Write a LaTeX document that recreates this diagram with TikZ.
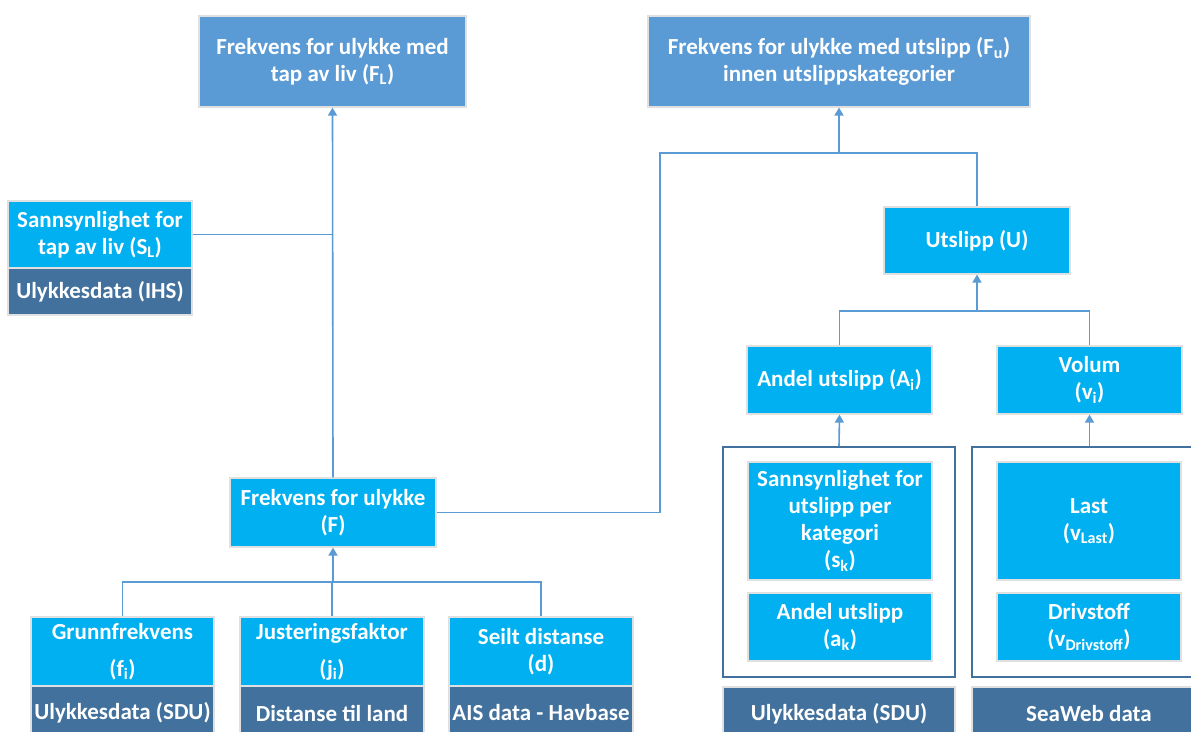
\documentclass[tikz,border=0pt]{standalone}
\usepackage{fontspec}
\setmainfont{Carlito}
\usetikzlibrary{arrows.meta}

\definecolor{lysbla}{HTML}{00B0F0}
\definecolor{mellombla}{HTML}{5B9BD5}
\definecolor{morkbla}{HTML}{41719C}

\tikzset{
  boks/.style={draw=black!12, line width=1.2pt, text=white, align=center, inner sep=0pt,
    font=\fontsize{23}{27}\selectfont\bfseries},
  lys/.style={boks, fill=lysbla},
  topp/.style={boks, fill=mellombla},
  kilde/.style={boks, fill=morkbla},
  gruppe/.style={draw=morkbla, line width=1.5pt, fill=white, inner sep=0pt},
  linje/.style={draw=mellombla, line width=1.6pt},
  pil/.style={linje, -{Triangle[length=8pt,width=9pt]}}
}

\begin{document}
\begin{tikzpicture}[x=1pt, y=-1pt]
\useasboundingbox[fill=white] (0,0) rectangle (1191,731);

\node[topp, minimum width=267pt, minimum height=91pt] (FL) at (332.5,61.5)
  {Frekvens for ulykke med\\tap av liv (F\textsubscript{L})};
\node[topp, minimum width=382pt, minimum height=91pt] (FU) at (839,61.5)
  {Frekvens for ulykke med utslipp (F\textsubscript{u})\\innen utslippskategorier};

\node[lys, minimum width=184pt, minimum height=67pt] (SL) at (100,234.5)
  {Sannsynlighet for\\tap av liv (S\textsubscript{L})};
\node[kilde, minimum width=184pt, minimum height=47pt] (IHS) at (100,291.5) {Ulykkesdata (IHS)};

\node[lys, minimum width=206pt, minimum height=69pt] (F) at (333,512.5) {Frekvens for ulykke\\(F)};

\node[lys, minimum width=183pt, minimum height=69pt] (grunn) at (122.5,651.5) {Grunnfrekvens\\[10pt](f\textsubscript{i})};
\node[lys, minimum width=184pt, minimum height=69pt] (just) at (332,651.5) {Justeringsfaktor\\[10pt](j\textsubscript{i})};
\node[lys, minimum width=184pt, minimum height=69pt] (seilt) at (541,651.5) {Seilt distanse\\(d)};
\node[kilde, minimum width=183pt, minimum height=54pt] (sdu1) at (122.5,713) {Ulykkesdata (SDU)};
\node[kilde, minimum width=184pt, minimum height=54pt] (land) at (332,713) {Distanse til land};
\node[kilde, minimum width=184pt, minimum height=54pt] (ais) at (541,713) {AIS data - Havbase};

\node[lys, minimum width=186pt, minimum height=67pt] (U) at (977,240.5) {Utslipp (U)};
\node[lys, minimum width=185pt, minimum height=68pt] (Ai) at (839.5,380) {Andel utslipp (A\textsubscript{i})};
\node[lys, minimum width=185pt, minimum height=68pt] (Vi) at (1089.5,380) {Volum\\(v\textsubscript{i})};

\node[gruppe, minimum width=232pt, minimum height=230pt] (gL) at (839,562) {};
\node[gruppe, minimum width=228pt, minimum height=230pt] (gR) at (1086,562) {};
\node[lys, minimum width=184pt, minimum height=118pt] (sk) at (840,521)
  {Sannsynlighet for\\utslipp per\\kategori\\(s\textsubscript{k})};
\node[lys, minimum width=184pt, minimum height=68pt] (ak) at (840,627) {Andel utslipp\\(a\textsubscript{k})};
\node[lys, minimum width=184pt, minimum height=118pt] (last) at (1089,521) {Last\\(v\textsubscript{Last})};
\node[lys, minimum width=184pt, minimum height=68pt] (driv) at (1089,627) {Drivstoff\\(v\textsubscript{Drivstoff})};
\node[kilde, minimum width=232pt, minimum height=53pt] (sdu2) at (839,713.5) {Ulykkesdata (SDU)};
\node[kilde, minimum width=234pt, minimum height=53pt] (seaweb) at (1089,713.5) {SeaWeb data};

\coordinate (knekk) at (660,153);
\coordinate (fj) at (333,582);
\coordinate (uj) at (977,311);

\draw[pil] (F.north) -- (FL.south);
\draw[linje] (SL.east) -- (SL.east -| F.north);
\draw[linje] (F.east) -| (knekk) -| (U.north);
\draw[pil] (FU.south |- knekk) -- (FU.south);
\draw[linje] (grunn.north) |- (fj) -| (seilt.north);
\draw[linje] (just.north |- fj) -- (just.north);
\draw[pil] (fj) -- (F.south);
\draw[linje] (Ai.north) |- (uj) -| (Vi.north);
\draw[pil] (uj) -- (U.south);
\draw[pil] (gL.north) -- (Ai.south);
\draw[pil] (Vi.south |- gR.north) -- (Vi.south);
\end{tikzpicture}
\end{document}
